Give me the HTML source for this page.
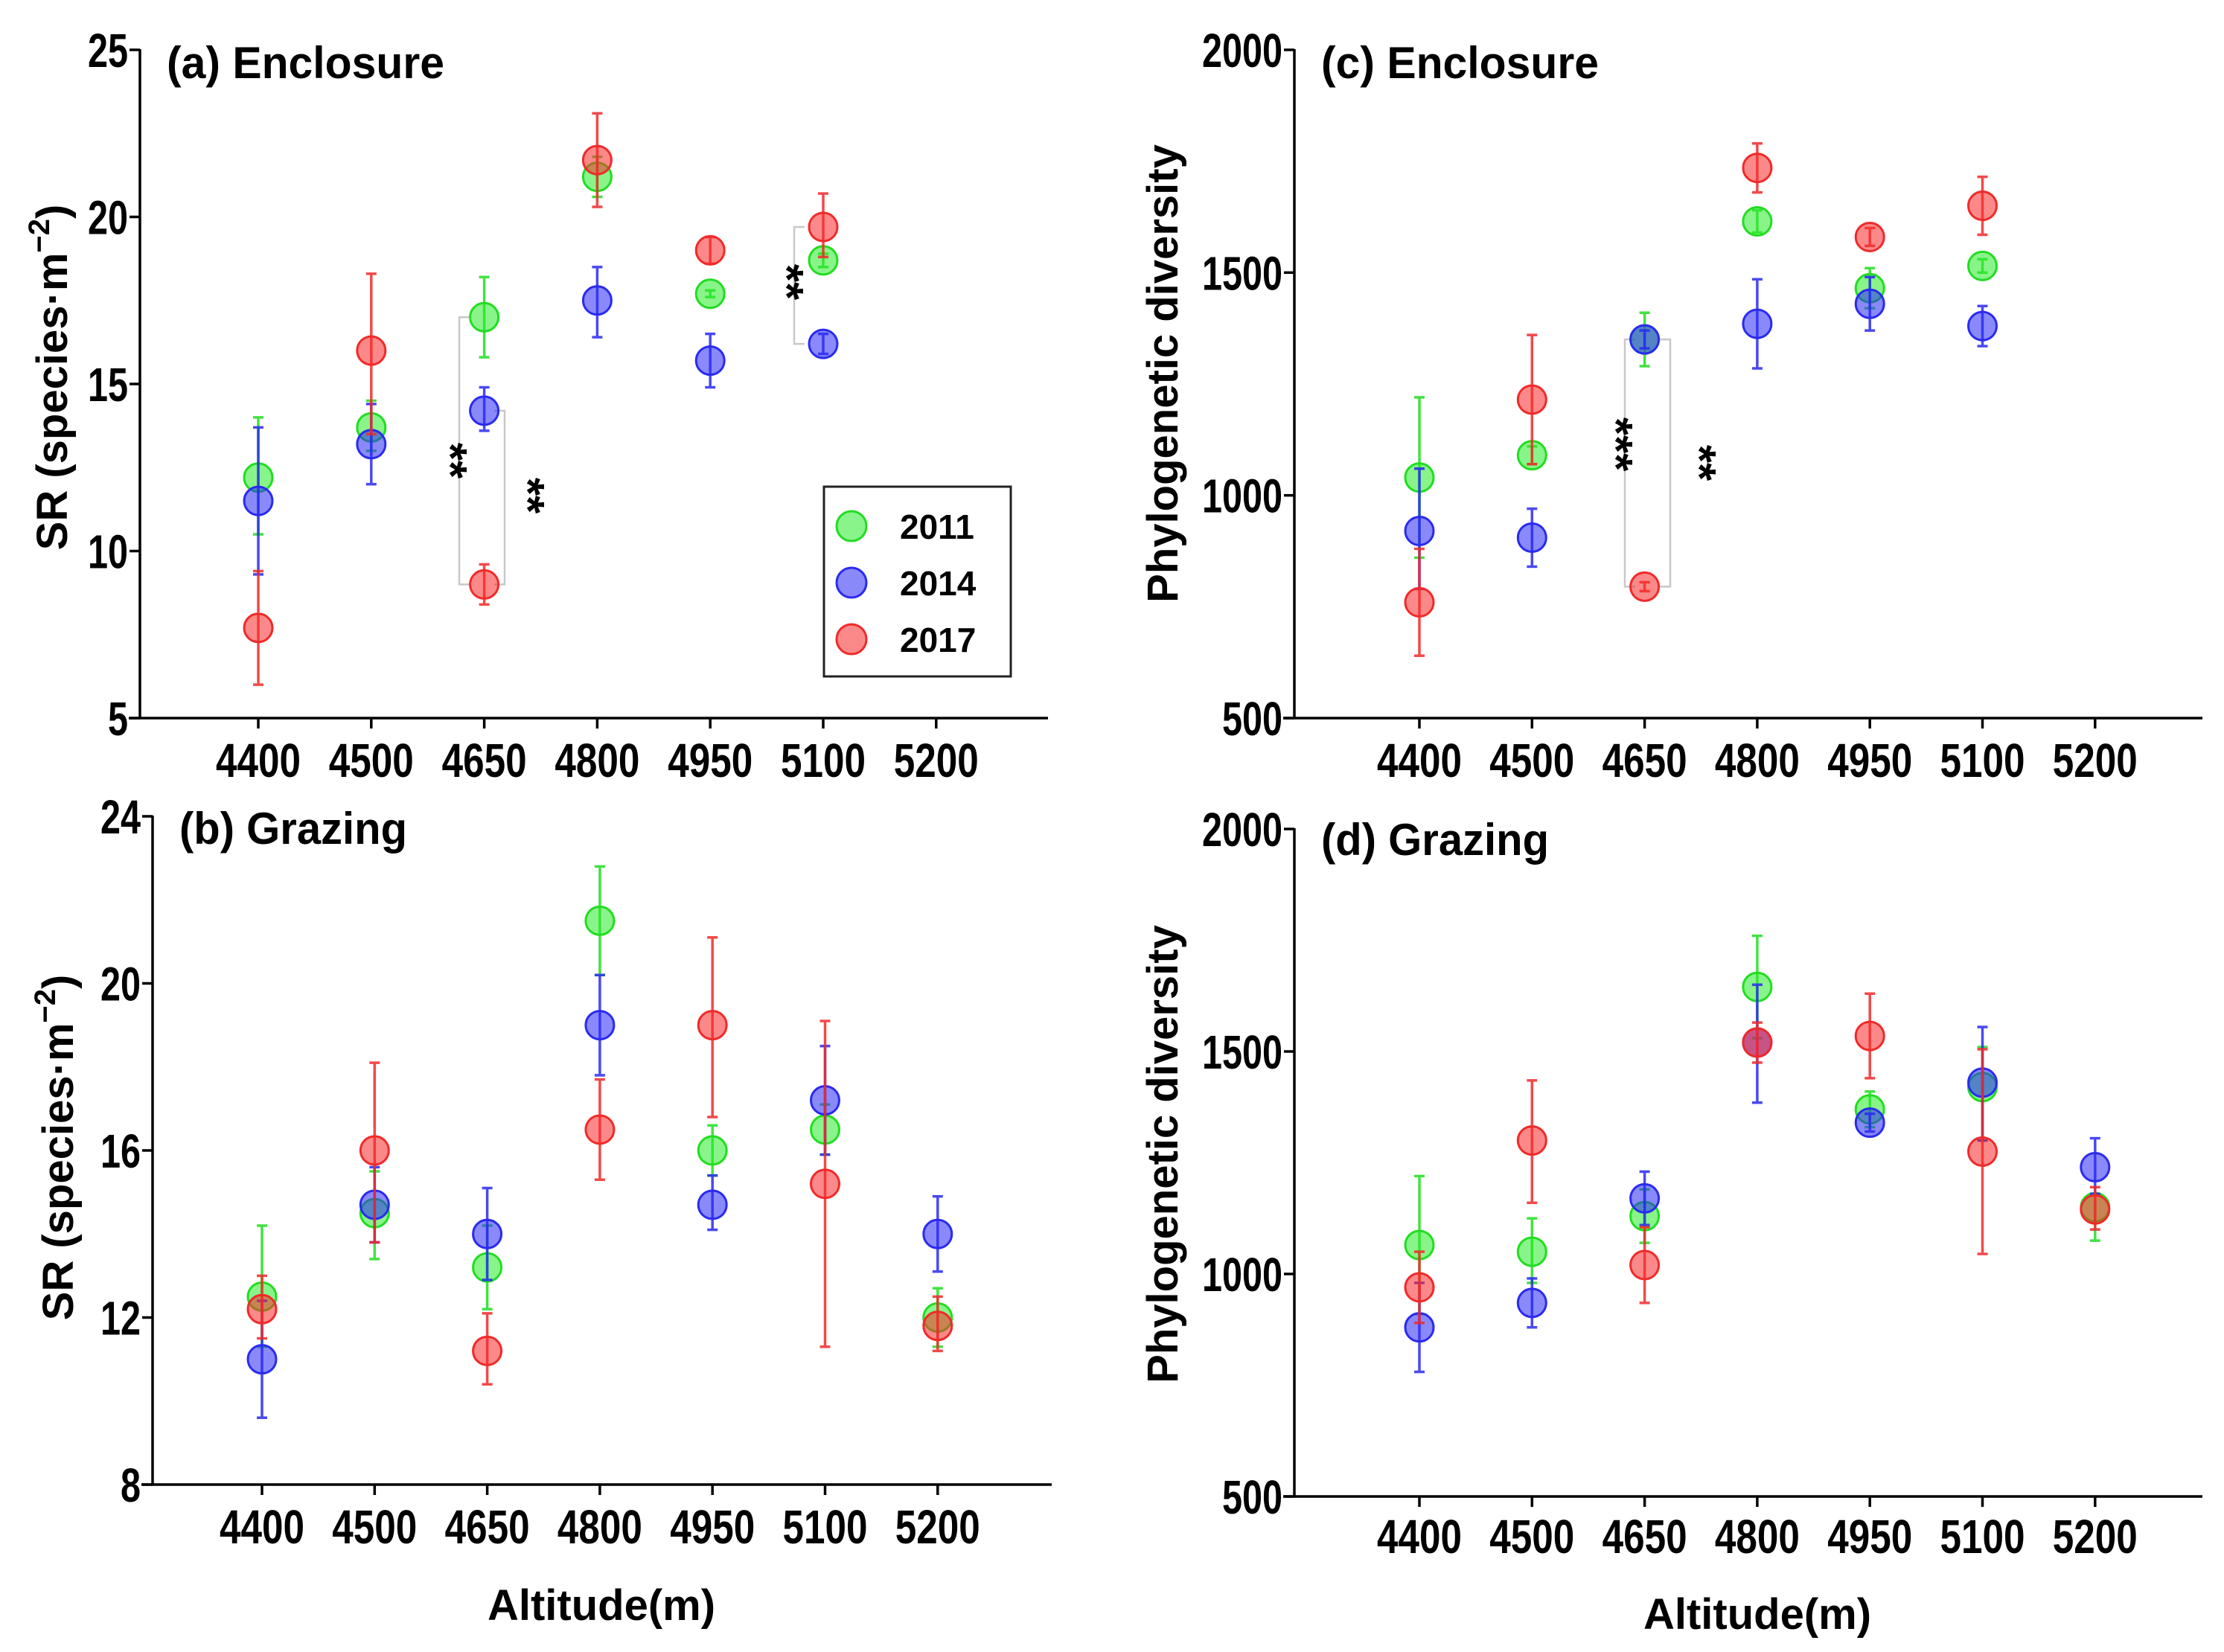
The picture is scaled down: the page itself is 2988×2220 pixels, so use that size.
<!DOCTYPE html>
<html><head><meta charset="utf-8"><style>
html,body{margin:0;padding:0;background:#fff;}
svg{display:block;}
text{font-family:"Liberation Sans",sans-serif;font-weight:bold;fill:#000;}
</style></head><body>
<svg id="chart" width="2988" height="2220" viewBox="0 0 2988 2220" xmlns="http://www.w3.org/2000/svg"></svg>
<script>
const categories = [4400, 4500, 4650, 4800, 4950, 5100, 5200];
const years = ["2011", "2014", "2017"];
// panel a: SR enclosure
const a2011 = [12.2, 13.7, 17.0, 21.2, 17.7, 18.7];
const a2011lo = [10.5, 13.0, 15.8, 20.6, 17.6, 18.5];
const a2011hi = [14.0, 14.5, 18.2, 21.8, 17.8, 18.9];
const a2014 = [11.5, 13.2, 14.2, 17.5, 15.7, 16.2];
const a2014lo = [9.3, 12.0, 13.6, 16.4, 14.9, 15.9];
const a2014hi = [13.7, 14.4, 14.9, 18.5, 16.5, 16.5];
const a2017 = [7.7, 16.0, 9.0, 21.7, 19.0, 19.7];
const a2017lo = [6.0, 13.5, 8.4, 20.3, 18.6, 18.8];
const a2017hi = [9.4, 18.3, 9.6, 23.1, 19.4, 20.7];
// panel b: SR grazing
const b2011 = [12.5, 14.5, 13.2, 21.5, 16.0, 16.5, 12.0];
const b2011lo = [11.3, 13.4, 12.2, 20.2, 15.4, 15.9, 11.3];
const b2011hi = [14.2, 15.5, 14.2, 22.8, 16.6, 17.1, 12.7];
const b2014 = [11.0, 14.7, 14.0, 19.0, 14.7, 17.2, 14.0];
const b2014lo = [9.6, 13.8, 12.9, 17.8, 14.1, 15.9, 13.1];
const b2014hi = [12.4, 15.6, 15.1, 20.2, 15.4, 18.5, 14.9];
const b2017 = [12.2, 16.0, 11.2, 16.5, 19.0, 15.2, 11.8];
const b2017lo = [11.5, 13.8, 10.4, 15.3, 16.8, 11.3, 11.2];
const b2017hi = [13.0, 18.1, 12.1, 17.7, 21.1, 19.1, 12.5];
// panel c: PD enclosure
const c2011 = [1040, 1090, 1350, 1615, 1465, 1515];
const c2011lo = [860, 1070, 1290, 1590, 1420, 1500];
const c2011hi = [1220, 1110, 1410, 1640, 1510, 1530];
const c2014 = [920, 905, 1350, 1385, 1430, 1380];
const c2014lo = [790, 840, 1330, 1285, 1370, 1335];
const c2014hi = [1060, 970, 1370, 1485, 1490, 1425];
const c2017 = [760, 1215, 795, 1735, 1580, 1650];
const c2017lo = [640, 1070, 785, 1680, 1560, 1585];
const c2017hi = [880, 1360, 805, 1790, 1600, 1715];
// panel d: PD grazing
const d2011 = [1065, 1050, 1130, 1645, 1370, 1420, 1150];
const d2011lo = [910, 980, 1070, 1530, 1330, 1300, 1075];
const d2011hi = [1220, 1125, 1190, 1760, 1410, 1510, 1180];
const d2014 = [880, 935, 1170, 1520, 1340, 1430, 1240];
const d2014lo = [780, 880, 1110, 1385, 1320, 1300, 1180];
const d2014hi = [980, 990, 1230, 1650, 1360, 1555, 1305];
const d2017 = [970, 1300, 1020, 1520, 1535, 1275, 1145];
const d2017lo = [890, 1160, 935, 1475, 1440, 1045, 1100];
const d2017hi = [1050, 1435, 1105, 1565, 1630, 1505, 1195];
const srTicks = [5, 10, 15, 20, 25];
const srTicksB = [8, 12, 16, 20, 24];
const pdTicks = [500, 1000, 1500, 2000];

const NS = "http://www.w3.org/2000/svg";
const svg = document.getElementById("chart");
const fills = ["rgba(40,235,40,0.55)", "rgba(40,40,245,0.55)", "rgba(250,40,40,0.55)"];
const strokes = ["#22dd22", "#2a2af0", "#f02a2a"];

function mk(tag, attrs, parent, txt) {
  const e = document.createElementNS(NS, tag);
  for (const k in attrs) e.setAttribute(k, attrs[k]);
  if (txt !== undefined) e.textContent = txt;
  (parent || svg).appendChild(e);
  return e;
}

function panel(cfg) {
  const g = mk("g", {});
  
  
  const y = v => cfg.y0 + (v - cfg.vmin) / (cfg.vmax - cfg.vmin) * (cfg.y1 - cfg.y0);
  const x = i => cfg.xs + i * cfg.dx;
  const ya = mk("line", {x1: cfg.ax, y1: y(cfg.vmax) - 1, x2: cfg.ax, y2: y(cfg.vmin) + 1.5, stroke: "#000", "stroke-width": 3.5}, g);
  
  
  const xa = mk("line", {x1: cfg.ax - 15, y1: y(cfg.vmin), x2: cfg.xend, y2: y(cfg.vmin), stroke: "#000", "stroke-width": 3.5}, g);
  
  
  cfg.ticks.forEach(t => {
    mk("line", {x1: cfg.ax - 14, y1: y(t), x2: cfg.ax, y2: y(t), stroke: "#000", "stroke-width": 3.5}, g);
    const s = String(t);
    const tl = mk("text", {x: cfg.ax - 16, y: y(t) + 23, "text-anchor": "end", "font-size": 64, textLength: s.length * 27, lengthAdjust: "spacingAndGlyphs"}, g, s);
    
    
  });
  categories.forEach((c, i) => {
    mk("line", {x1: x(i), y1: y(cfg.vmin), x2: x(i), y2: y(cfg.vmin) + 14, stroke: "#000", "stroke-width": 3.5}, g);
    const tl = mk("text", {x: x(i), y: cfg.xlabY, "text-anchor": "middle", "font-size": 64, textLength: 114, lengthAdjust: "spacingAndGlyphs"}, g, c);
    
    
  });
  const title = mk("text", {x: cfg.ax + 36, y: cfg.titleY, "font-size": 60, textLength: cfg.titleLen, lengthAdjust: "spacingAndGlyphs"}, g, cfg.title);
  
  
  const yt = mk("text", {transform: `translate(${cfg.ytx},${cfg.yty}) rotate(-90)`, "text-anchor": "middle", "font-size": 58}, g);
  
  
  if (cfg.sr) {
    mk("tspan", {}, yt, "SR (species·m");
    mk("tspan", {dy: -24, "font-size": 40}, yt, "−2");
    mk("tspan", {dy: 24}, yt, ")");
  } else yt.textContent = "Phylogenetic diversity";
  if (cfg.xtitle) {
    const xt = mk("text", {x: cfg.xtitleX, y: cfg.xtitleY, "text-anchor": "middle", "font-size": 58}, g, "Altitude(m)");
    
    
  }
  (cfg.brackets || []).forEach(b => {
    const dir = b.side === "l" ? 1 : -1;
    const p = mk("polyline", {points: `${b.x + dir * 14},${y(b.v1)} ${b.x},${y(b.v1)} ${b.x},${y(b.v2)} ${b.x + dir * 14},${y(b.v2)}`, fill: "none", stroke: "#c8c8c8", "stroke-width": 2.5}, g);
    
    
  });
  (cfg.stars || []).forEach(s => {
    const st = mk("text", {transform: `translate(${s.x},${s.y}) rotate(90)`, "text-anchor": "middle", "font-size": 62}, g, s.t);
    
    
  });
  cfg.series.forEach((s, k) => {
    const sg = mk("g", {}, g);
    
    
    s.v.forEach((v, i) => {
      const cx = x(i);
      const eb = mk("g", {stroke: strokes[k], "stroke-width": 3.5, opacity: 0.85}, sg);
      
      
      mk("line", {x1: cx, y1: y(s.lo[i]), x2: cx, y2: y(s.hi[i])}, eb);
      mk("line", {x1: cx - 7, y1: y(s.lo[i]), x2: cx + 7, y2: y(s.lo[i])}, eb);
      mk("line", {x1: cx - 7, y1: y(s.hi[i]), x2: cx + 7, y2: y(s.hi[i])}, eb);
      const pt = mk("circle", {cx: cx, cy: y(v), r: 19, fill: fills[k], stroke: strokes[k], "stroke-width": 3}, sg);
      
      
    });
  });
  return y;
}

panel({name: "panel-a-enclosure-sr", title: "(a) Enclosure", titleLen: 373, ax: 188, xend: 1408, vmin: 5, vmax: 25, y0: 965, y1: 67,
  xs: 347, dx: 151.8, ticks: srTicks, xlabY: 1044, titleY: 105, ytx: 90, yty: 507, sr: true,
  brackets: [{x: 617, v1: 17.0, v2: 9.0, side: "l"}, {x: 678, v1: 14.2, v2: 9.0, side: "r"}, {x: 1067, v1: 19.7, v2: 16.2, side: "l"}],
  stars: [{x: 584, y: 619, t: "**"}, {x: 688, y: 666, t: "**"}, {x: 1036, y: 379, t: "**"}],
  series: [{v: a2011, lo: a2011lo, hi: a2011hi}, {v: a2014, lo: a2014lo, hi: a2014hi}, {v: a2017, lo: a2017lo, hi: a2017hi}]});
panel({name: "panel-b-grazing-sr", title: "(b) Grazing", titleLen: 306, ax: 205, xend: 1413, vmin: 8, vmax: 24, y0: 1995, y1: 1097,
  xs: 352, dx: 151.3, ticks: srTicksB, xlabY: 2074, titleY: 1134, ytx: 98, yty: 1542, sr: true, xtitle: true, xtitleX: 808, xtitleY: 2177,
  series: [{v: b2011, lo: b2011lo, hi: b2011hi}, {v: b2014, lo: b2014lo, hi: b2014hi}, {v: b2017, lo: b2017lo, hi: b2017hi}]});
panel({name: "panel-c-enclosure-pd", title: "(c) Enclosure", titleLen: 373, ax: 1739, xend: 2959, vmin: 500, vmax: 2000, y0: 965, y1: 67,
  xs: 1907, dx: 151.3, ticks: pdTicks, xlabY: 1044, titleY: 105, ytx: 1582, yty: 502, sr: false,
  brackets: [{x: 2183, v1: 1350, v2: 795, side: "l"}, {x: 2244, v1: 1350, v2: 795, side: "r"}],
  stars: [{x: 2150, y: 597, t: "***"}, {x: 2262, y: 622, t: "**"}],
  series: [{v: c2011, lo: c2011lo, hi: c2011hi}, {v: c2014, lo: c2014lo, hi: c2014hi}, {v: c2017, lo: c2017lo, hi: c2017hi}]});
panel({name: "panel-d-grazing-pd", title: "(d) Grazing", titleLen: 306, ax: 1739, xend: 2959, vmin: 500, vmax: 2000, y0: 2011, y1: 1114,
  xs: 1907, dx: 151.3, ticks: pdTicks, xlabY: 2087, titleY: 1149, ytx: 1582, yty: 1551, sr: false, xtitle: true, xtitleX: 2361, xtitleY: 2189,
  series: [{v: d2011, lo: d2011lo, hi: d2011hi}, {v: d2014, lo: d2014lo, hi: d2014hi}, {v: d2017, lo: d2017lo, hi: d2017hi}]});

const lg = mk("g", {});


mk("rect", {x: 1107, y: 654, width: 251, height: 255, fill: "#fff", stroke: "#222", "stroke-width": 3}, lg);
years.forEach((yr, k) => {
  const e = mk("g", {}, lg);
  
  
  mk("circle", {cx: 1144, cy: 707 + k * 76, r: 20, fill: fills[k], stroke: strokes[k], "stroke-width": 3}, e);
  mk("text", {x: 1209, y: 724 + k * 76, "font-size": 46}, e, yr);
});
</script>
</body></html>
